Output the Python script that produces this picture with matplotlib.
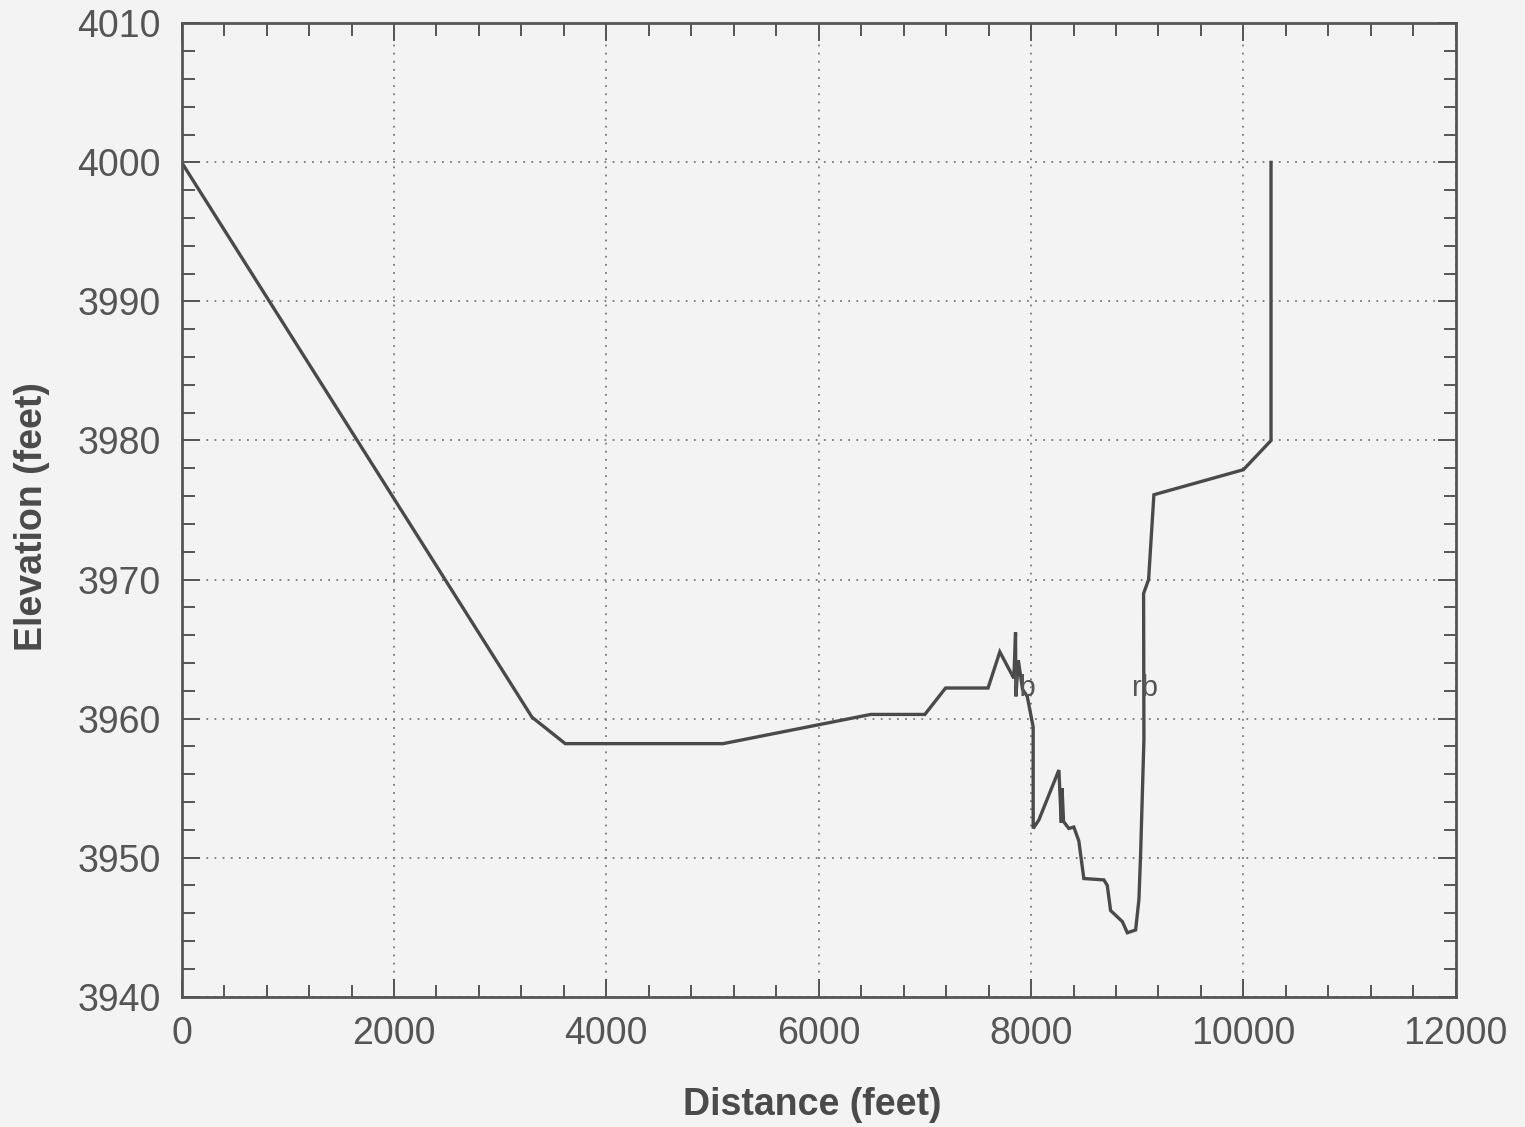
import matplotlib
matplotlib.use("Agg")
import matplotlib.pyplot as plt
from matplotlib.ticker import MultipleLocator

# ---- data ----
distance = [0, 3300, 3613, 5100, 6490, 7000, 7195, 7595, 7706, 7838, 7854, 7857,
            7880, 7920, 7964, 8020, 8020, 8073, 8262, 8285, 8292, 8306, 8356,
            8403, 8450, 8497, 8686, 8718, 8749, 8860, 8907, 8985, 9016, 9032,
            9063, 9060, 9107, 9157, 10000, 10260, 10260]
elevation = [4000.0, 3960.1, 3958.2, 3958.2, 3960.3, 3960.3, 3962.2, 3962.2, 3964.8,
             3962.9, 3966.2, 3961.6, 3964.2, 3962.1, 3961.6, 3959.4, 3952.1,
             3952.7, 3956.3, 3952.5, 3955.0, 3952.6, 3952.1, 3952.2, 3951.2,
             3948.5, 3948.4, 3948.0, 3946.2, 3945.4, 3944.6, 3944.8, 3947.0,
             3950.3, 3958.5, 3969.0, 3970.0, 3976.1, 3977.9, 3980.0, 4000.0]
bank_labels = ["lb", "rb"]
bank_x = [7826, 8950]
bank_y = [3961.6, 3961.6]

x_ticks = [0, 2000, 4000, 6000, 8000, 10000, 12000]
y_ticks = [3940, 3950, 3960, 3970, 3980, 3990, 4000, 4010]

plt.rcParams['font.family'] = ['Liberation Sans', 'DejaVu Sans']

fig = plt.figure(figsize=(15.25, 11.27), dpi=100, facecolor='#f3f3f3')
ax = fig.add_axes([0.1191, 0.1156, 0.8355, 0.8637])
ax.set_facecolor('#f3f3f3')

ax.plot(distance, elevation, color='#4a4a4a', lw=2.4, solid_joinstyle='miter')

for t, x, y in zip(bank_labels, bank_x, bank_y):
    ax.text(x, y, t, fontsize=21, color='#555555', ha='left', va='baseline')

ax.set_xlim(0, 12000)
ax.set_ylim(3940, 4010)
ax.set_xticks(x_ticks)
ax.set_yticks(y_ticks)
ax.xaxis.set_minor_locator(MultipleLocator(400))
ax.yaxis.set_minor_locator(MultipleLocator(2))

ax.grid(True, which='major', color='#7a7a7a', linestyle=(0, (1, 3.5)), linewidth=1.3)

ax.tick_params(which='both', direction='in', top=True, right=True,
               color='#555555', width=1.4)
ax.tick_params(which='major', length=13)
ax.tick_params(which='minor', length=9)
ax.tick_params(axis='x', which='major', labelsize=27, pad=14, labelcolor='#555555')
ax.tick_params(axis='y', which='major', labelsize=27, pad=15, labelcolor='#555555')

for s in ax.spines.values():
    s.set_color('#555555')
    s.set_linewidth(2.0)

ax.set_xlabel('Distance (feet)', fontsize=27, fontweight='bold', color='#4a4a4a')
ax.set_ylabel('Elevation (feet)', fontsize=27, fontweight='bold', color='#4a4a4a')
ax.xaxis.set_label_coords(0.495, -0.111)
ax.xaxis.label.set_va('center')
ax.yaxis.set_label_coords(-0.1175, 0.493)
ax.yaxis.label.set_va('center')

fig.savefig('out.png', dpi=100, facecolor=fig.get_facecolor())
